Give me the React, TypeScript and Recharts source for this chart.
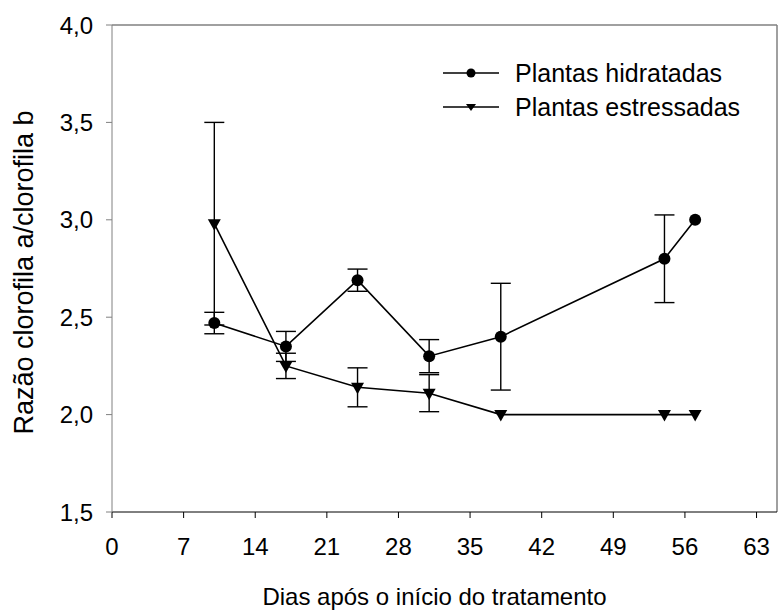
import React from 'react';
import { LineChart, Line, XAxis, YAxis, ErrorBar, ReferenceLine, Label } from 'recharts';

const days = [10, 17, 24, 31, 38, 54, 57];
const hidratadas = [2.47, 2.35, 2.69, 2.30, 2.40, 2.80, 3.00];
const hidratadasErr: (number | null)[] = [0.055, 0.077, 0.057, 0.085, 0.274, 0.225, null];
const estressadas = [2.98, 2.25, 2.14, 2.11, 2.00, 2.00, 2.00];
const estressadasErr: (number | null)[] = [0.52, 0.065, 0.10, 0.095, null, null, null];

const xTicks = [0, 7, 14, 21, 28, 35, 42, 49, 56, 63];
const yTicks = [1.5, 2.0, 2.5, 3.0, 3.5, 4.0];
const seriesNames = ['Plantas hidratadas', 'Plantas estressadas'];
const xTitle = 'Dias após o início do tratamento';
const yTitle = 'Razão clorofila a/clorofila b';

const hidData = days.map((d, i) => ({ day: d, v: hidratadas[i], e: hidratadasErr[i] }));
const estData = days.map((d, i) => ({ day: d, v: estressadas[i], e: estressadasErr[i] }));

const FONT = '"Liberation Sans", Arial, sans-serif';
const FS = 24;
const LFS = 25;
const YFS = 27;

const Tri = (props: any) => {
  const { cx, cy, key } = props;
  if (cx == null || cy == null) return null;
  return <path key={key} d={`M${cx - 6.5},${cy - 4.5} L${cx + 6.5},${cy - 4.5} L${cx},${cy + 7} Z`} fill="#000" stroke="none" />;
};

const LegendBox = () => (
  <svg width={330} height={70} style={{ position: 'absolute', left: 440, top: 58, overflow: 'visible' }}>
    <line x1={3} y1={15} x2={59} y2={15} stroke="#000" strokeWidth={1.5} />
    <circle cx={31} cy={15} r={4.5} fill="#000" />
    <text x={75} y={15} dy="0.36em" fontSize={LFS} fontFamily={FONT} fill="#000">{seriesNames[0]}</text>
    <line x1={3} y1={49} x2={59} y2={49} stroke="#000" strokeWidth={1.5} />
    <path d="M26,46 L36,46 L31,53 Z" fill="#000" />
    <text x={75} y={49} dy="0.36em" fontSize={LFS} fontFamily={FONT} fill="#000">{seriesNames[1]}</text>
  </svg>
);

export default function App() {
  return (
    <div style={{ position: 'absolute', left: 0, top: 0, width: 778, height: 611 }}>
      <LineChart width={778} height={611} margin={{ top: 25, right: 1, left: 0, bottom: 0 }}>
        <XAxis
          type="number"
          dataKey="day"
          domain={[0, 65]}
          ticks={xTicks}
          allowDuplicatedCategory={false}
          height={99}
          tickSize={6}
          tickMargin={20}
          stroke="#000"
          tick={{ fill: '#000', fontSize: FS, fontFamily: FONT }}
        >
          <Label
            content={(p: any) => {
              const vb = p.viewBox;
              return (
                <text x={vb.x + vb.width / 2 - 10} y={vb.y + 93} textAnchor="middle" fontSize={FS} fontFamily={FONT} fill="#000">
                  {xTitle}
                </text>
              );
            }}
          />
        </XAxis>
        <YAxis
          type="number"
          domain={[1.5, 4.0]}
          ticks={yTicks}
          width={112}
          tickSize={6}
          tickMargin={13}
          stroke="#808080"
          tickFormatter={(v: number) => v.toFixed(1).replace('.', ',')}
          tick={{ fill: '#000', fontSize: FS, fontFamily: FONT }}
        >
          <Label
            content={(p: any) => {
              const vb = p.viewBox;
              const cy = vb.y + vb.height / 2 + 4;
              return (
                <text x={0} y={0} transform={`translate(33, ${cy}) rotate(-90)`} textAnchor="middle" fontSize={YFS} fontFamily={FONT} fill="#000">
                  {yTitle}
                </text>
              );
            }}
          />
        </YAxis>
        <ReferenceLine y={4.0} stroke="#808080" strokeWidth={1.5} />
        <ReferenceLine x={65} stroke="#808080" strokeWidth={1.5} />
        <Line
          data={hidData}
          dataKey="v"
          name={seriesNames[0]}
          stroke="#000"
          strokeWidth={1.6}
          isAnimationActive={false}
          dot={{ r: 6, fill: '#000', stroke: '#000', strokeWidth: 0 }}
          activeDot={false}
        >
          <ErrorBar dataKey="e" width={10} stroke="#000" strokeWidth={1.4} direction="y" />
        </Line>
        <Line
          data={estData}
          dataKey="v"
          name={seriesNames[1]}
          stroke="#000"
          strokeWidth={1.6}
          isAnimationActive={false}
          dot={(p: any) => <Tri {...p} />}
          activeDot={false}
        >
          <ErrorBar dataKey="e" width={10} stroke="#000" strokeWidth={1.4} direction="y" />
        </Line>
      </LineChart>
      <LegendBox />
    </div>
  );
}
